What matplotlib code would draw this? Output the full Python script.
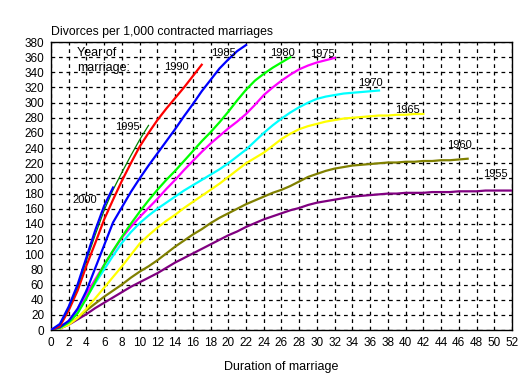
import matplotlib
matplotlib.use('Agg')
import matplotlib.pyplot as plt

plt.rcParams['font.family'] = ['Liberation Sans', 'DejaVu Sans']

# cumulative divorces per 1,000 marriages by duration (years), per marriage cohort
y1955 = [0, 2, 7, 14, 21, 29, 36, 43, 50, 57, 63, 69, 75, 82, 89, 95, 101, 107, 113, 119,
         125, 130, 136, 141, 146, 150, 154, 158, 161, 165, 168, 170, 172, 174, 176, 177,
         178, 179, 180, 180, 181, 181, 181, 182, 182, 182, 183, 183, 183, 184, 184, 184, 184]
y1960 = [0, 2, 8, 16, 26, 35, 44, 52, 60, 69, 77, 84, 92, 101, 110, 118, 126, 133, 141, 148,
         154, 160, 166, 171, 176, 181, 185, 190, 196, 202, 206, 210, 213, 215, 217, 218,
         219, 220, 221, 221, 222, 222, 223, 223, 224, 224, 225, 226]
y1965 = [0, 2, 7, 16, 28, 42, 56, 70, 84, 99, 114, 125, 135, 144, 152, 161, 169, 177, 185,
         193, 202, 211, 220, 227, 234, 243, 252, 259, 265, 269, 272, 275, 277, 279, 280,
         281, 282, 283, 283, 284, 284, 285, 285]
y1970 = [0, 3, 10, 24, 43, 62, 80, 98, 115, 129, 141, 151, 160, 168, 176, 184, 191, 198,
         205, 212, 220, 229, 238, 249, 260, 270, 279, 287, 294, 300, 305, 308, 310, 312,
         313, 314, 315, 316]
y1975 = [0, 3, 12, 28, 48, 67, 86, 104, 122, 136, 149, 161, 173, 186, 198, 211, 223, 235,
         246, 256, 266, 275, 285, 297, 310, 320, 329, 337, 344, 349, 353, 356, 359]
y1980 = [0, 3, 10, 22, 42, 64, 86, 105, 123, 140, 156, 171, 185, 198, 210, 223, 236, 249,
         261, 274, 288, 303, 317, 329, 338, 346, 353, 360]
y1985 = [0, 4, 12, 28, 52, 82, 112, 142, 162, 182, 200, 217, 233, 249, 265, 282, 298, 315,
         330, 345, 357, 368, 376]
y1990 = [0, 5, 26, 52, 85, 115, 146, 172, 197, 220, 242, 260, 277, 292, 306, 320, 335, 350]
y1995 = [0, 7, 29, 57, 92, 126, 158, 185, 208, 230, 251, 270]
y2000 = [0, 8, 31, 60, 96, 132, 164, 188]

cohorts = ['1955', '1960', '1965', '1970', '1975', '1980', '1985', '1990', '1995', '2000']
series = [y1955, y1960, y1965, y1970, y1975, y1980, y1985, y1990, y1995, y2000]
colors = ['#800080', '#808000', '#ffff00', '#00ffff', '#ff00ff', '#00ff00', '#0000ff',
          '#ff0000', '#008000', '#0000ff']

# where each year label sits (duration, value)
label_pos = {'1955': (50.1, 206), '1960': (46.1, 244), '1965': (40.2, 290),
             '1970': (36.0, 326), '1975': (30.6, 364), '1980': (26.1, 365),
             '1985': (19.4, 365), '1990': (14.2, 347), '1995': (8.6, 268),
             '2000': (3.8, 171)}

fig = plt.figure(figsize=(5.27, 3.74), dpi=100)
ax = fig.add_axes([0.0968, 0.1176, 0.8747, 0.7701])

for name, vals, c in zip(cohorts, series, colors):
    lw = 0.9 if name == '1995' else 1.6
    ax.plot(range(len(vals)), vals, color=c, lw=lw, zorder=3)
    lx, ly = label_pos[name]
    ax.text(lx, ly, name, fontsize=8, ha='center', va='center', zorder=4)

ax.text(2.9, 373, 'Year of\nmarriage:', fontsize=9, ha='left', va='top',
        linespacing=1.3, zorder=4)

ax.set_xlim(0, 52)
ax.set_ylim(0, 380)
ax.set_xticks(range(0, 53, 2))
ax.set_yticks(range(0, 381, 20))
ax.grid(True, color='black', linestyle=(0, (3, 3)), linewidth=0.9)
ax.tick_params(length=0, labelsize=8.5, pad=5)
for s in ax.spines.values():
    s.set_linewidth(1.0)

fig.text(0.0968, 0.914, 'Divorces per 1,000 contracted marriages', fontsize=8.8,
         ha='left', va='center')
ax.set_xlabel('Duration of marriage', fontsize=9, labelpad=9)

fig.savefig('out.png', dpi=100)
